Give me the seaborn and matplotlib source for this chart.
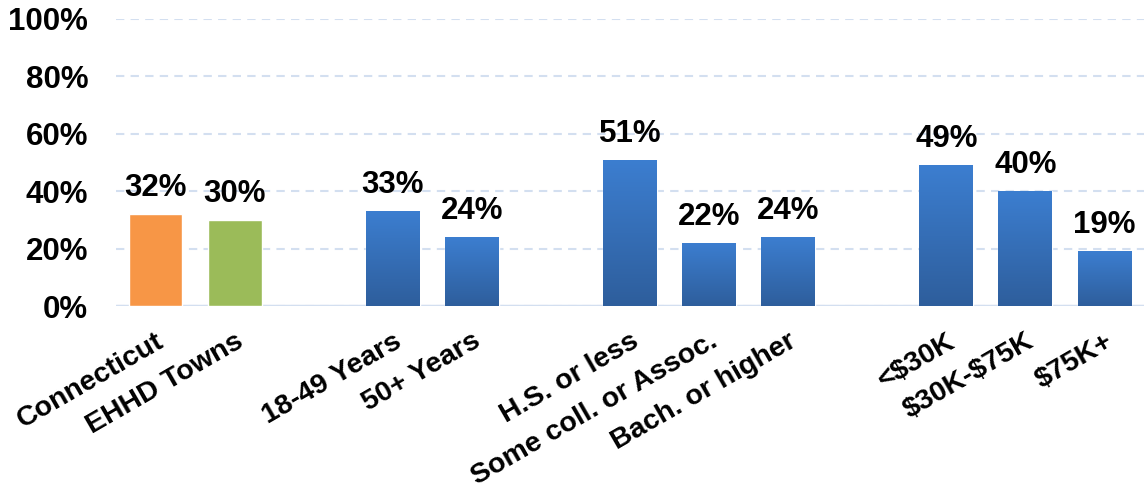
# Gráfico de barras agrupadas con espacios entre grupos
import numpy as np
import pandas as pd
import matplotlib.pyplot as plt
import seaborn as sns
from matplotlib.colors import LinearSegmentedColormap

# 1) Datos
labels = ["Connecticut", "EHHD Towns",
          "18-49 Years", "50+ Years",
          "H.S. or less", "Some coll. or Assoc.", "Bach. or higher",
          "<$30K", "$30K-$75K", "$75K+"]
values = [32, 30, 33, 24, 51, 22, 24, 49, 40, 19]
groups = [0, 0, 1, 1, 2, 2, 2, 3, 3, 3]
colors = ["#F79646", "#9BBB59"] + ["#3A7BCB"] * 8

# 2) Tabla con huecos entre grupos (categorías vacías)
rows = []
prev = groups[0]
n_gap = 0
for lab, val, g, c in zip(labels, values, groups, colors):
    if g != prev:
        n_gap += 1
        rows.append((" " * n_gap, np.nan, "#FFFFFF"))
        prev = g
    rows.append((lab, val, c))
df = pd.DataFrame(rows, columns=["cat", "pct", "color"])
palette = dict(zip(df["cat"], df["color"]))

# 3) Estilo
sns.set_style("white")
plt.rcParams["font.family"] = ["Liberation Sans", "DejaVu Sans"]
plt.rcParams["font.weight"] = "bold"
plt.rcParams["text.parse_math"] = False
plt.rcParams["text.color"] = "black"
plt.rcParams["xtick.color"] = "black"
plt.rcParams["ytick.color"] = "black"

fig = plt.figure(figsize=(11.44, 4.93), dpi=100)
ax = fig.add_axes([0.1014, 0.3793, 0.8986, 0.5822])

sns.barplot(data=df, x="cat", y="pct", hue="cat", palette=palette,
            order=list(df["cat"]), width=0.68, legend=False,
            saturation=1, ax=ax, zorder=3)

# degradado vertical en las barras azules + etiquetas de valor
blue = LinearSegmentedColormap.from_list("b", ["#2E5E9C", "#3C7ED0"])
grad = np.linspace(0, 1, 256)[:, None]
for cont in ax.containers:
    for p in cont:
        h = p.get_height()
        if np.isnan(h):
            continue
        xc = p.get_x() + p.get_width() / 2
        i = int(round(xc))
        if df["color"].iloc[i] == "#3A7BCB":
            x0 = p.get_x()
            im = ax.imshow(grad, extent=[x0, x0 + p.get_width(), 0, h],
                           cmap=blue, aspect="auto", origin="lower", zorder=4)
            im.set_clip_path(p)
        ax.annotate(f"{df['pct'].iloc[i]:.0f}%", (xc, h),
                    xytext=(0, 8), textcoords="offset points",
                    ha="center", va="bottom", fontsize=22.5,
                    fontweight="bold", zorder=5)

# 4) Ejes
ax.set_xlim(-0.5, len(df) - 0.5)
ax.set_ylim(0, 100)
ax.set_yticks(range(0, 101, 20))
ax.set_yticklabels([f"{t}%" for t in range(0, 101, 20)],
                   fontsize=22.5, fontweight="bold")
ax.tick_params(axis="y", length=0, pad=20)
ax.tick_params(axis="x", length=0, pad=16)
ax.set_xticks(range(len(df)))
ax.set_xticklabels(df["cat"], rotation=30, ha="right",
                   rotation_mode="anchor", fontsize=20.5, fontweight="bold")
ax.set_xlabel("")
ax.set_ylabel("")
ax.yaxis.grid(True, linestyle=(0, (4, 3)), color="#D3DFF0", linewidth=1.5,
              zorder=0)
ax.set_axisbelow(True)
sns.despine(ax=ax, left=True, bottom=True, top=True, right=True)
ax.axhline(0, color="#D3DFF0", linewidth=2.5, zorder=2)

fig.savefig("out.png", dpi=100)
